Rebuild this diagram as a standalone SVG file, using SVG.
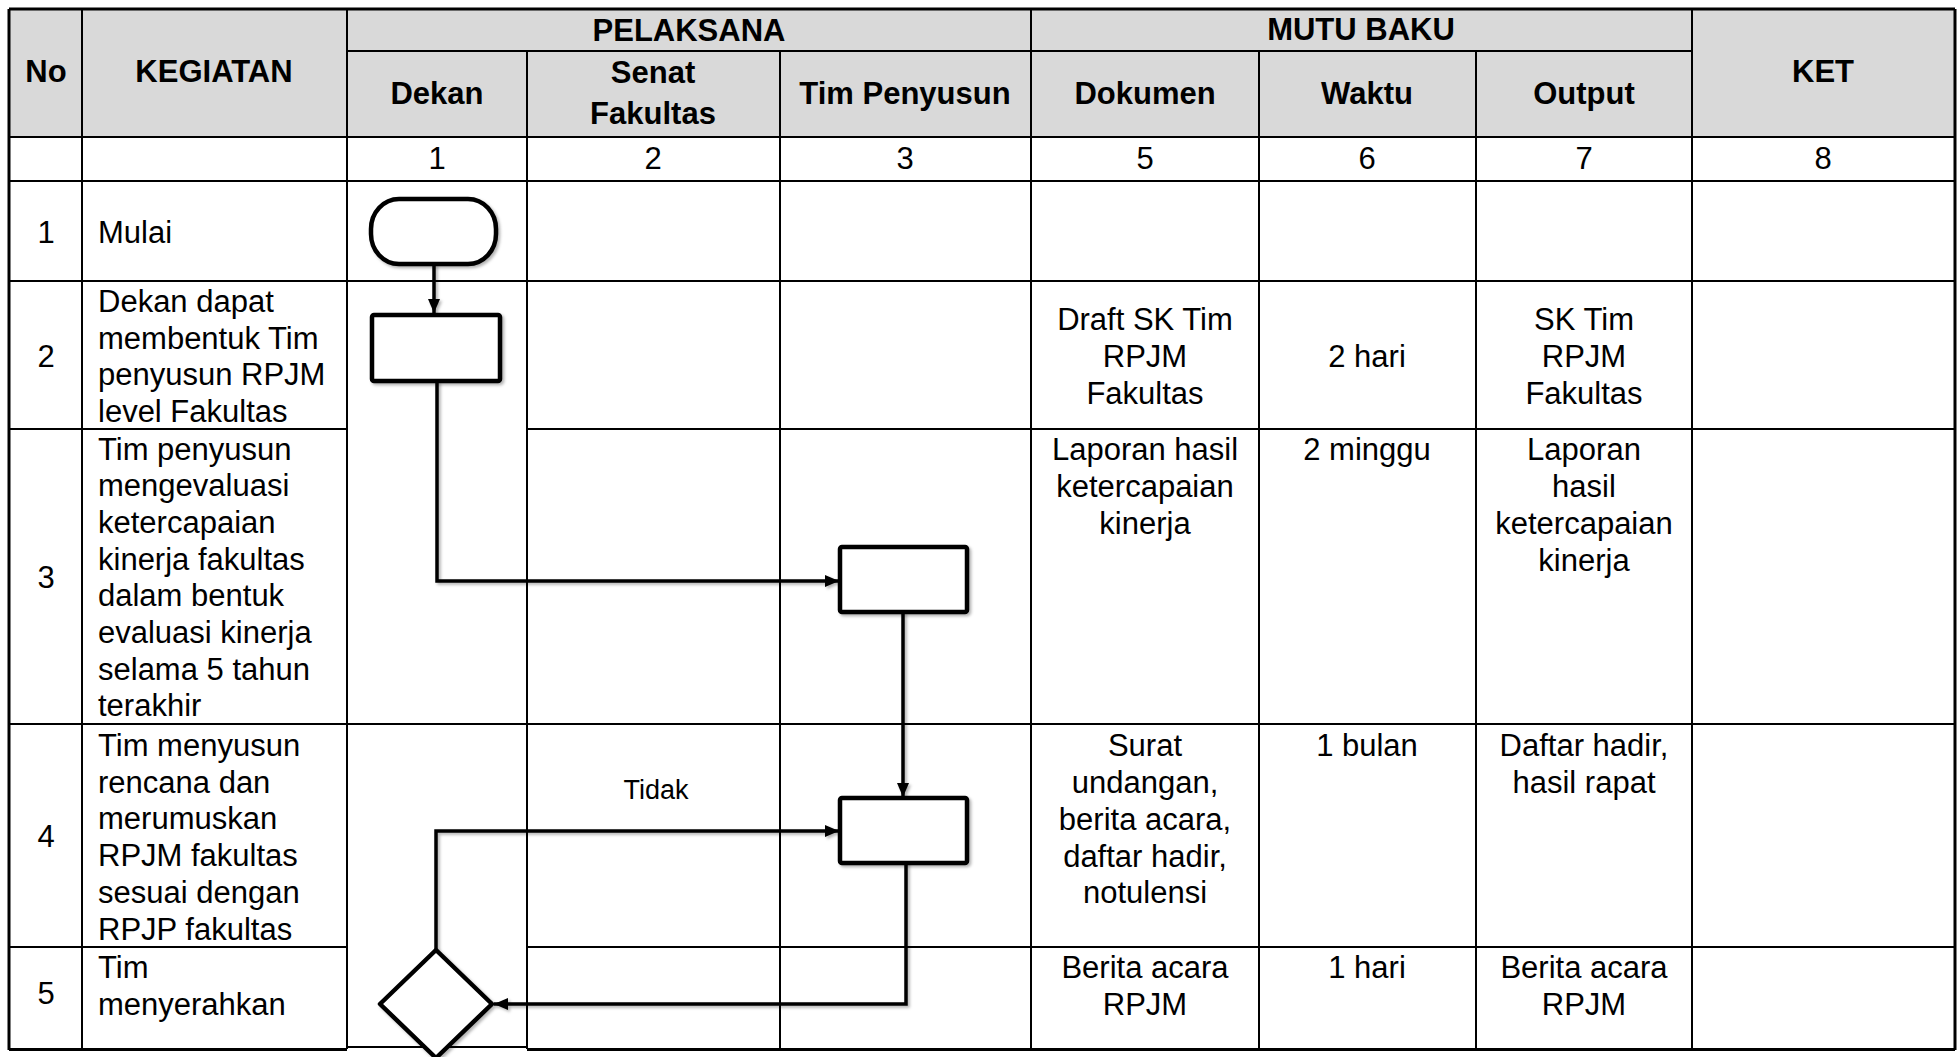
<svg xmlns="http://www.w3.org/2000/svg" width="1959" height="1057" viewBox="0 0 1959 1057">
<style>
text{font-family:"Liberation Sans",Arial,sans-serif;font-size:31px;fill:#000}
.b{font-weight:bold}
.c{text-anchor:middle}
.g{stroke:#000;stroke-width:2;fill:none}
.gb{stroke:#000;stroke-width:3;fill:none}
.shape{fill:#fff;stroke:#000;stroke-width:4.5;stroke-linejoin:round}
.conn{fill:none;stroke:#000;stroke-width:3.5;stroke-linejoin:miter}
.lbl{font-size:27px}
</style>
<defs>
<marker id="ah" markerUnits="userSpaceOnUse" markerWidth="14" markerHeight="12" refX="14" refY="6" orient="auto">
<path d="M0,0 L14,6 L0,12 z" fill="#000"/>
</marker>
<filter id="sh" filterUnits="userSpaceOnUse" x="0" y="0" width="1959" height="1057">
<feDropShadow dx="2" dy="2" stdDeviation="1.5" flood-color="#000" flood-opacity="0.3"/>
</filter>
</defs>
<rect width="1959" height="1057" fill="#fff"/>
<g id="table">
<rect x="9" y="9" width="1946" height="128" fill="#d9d9d9"/>
<g class="g">
<line x1="347" y1="51" x2="1692" y2="51"/>
<line x1="9" y1="137" x2="1955" y2="137"/>
<line x1="9" y1="181" x2="1955" y2="181"/>
<line x1="9" y1="281" x2="1955" y2="281"/>
<line x1="9" y1="429" x2="347" y2="429"/>
<line x1="527" y1="429" x2="1955" y2="429"/>
<line x1="9" y1="724" x2="1955" y2="724"/>
<line x1="9" y1="947" x2="347" y2="947"/>
<line x1="527" y1="947" x2="1955" y2="947"/>
<line x1="347" y1="1047" x2="527" y2="1047"/>
<line x1="82" y1="9" x2="82" y2="1049"/>
<line x1="347" y1="9" x2="347" y2="1049"/>
<line x1="527" y1="51" x2="527" y2="1049"/>
<line x1="780" y1="51" x2="780" y2="1049"/>
<line x1="1031" y1="9" x2="1031" y2="1049"/>
<line x1="1259" y1="51" x2="1259" y2="1049"/>
<line x1="1476" y1="51" x2="1476" y2="1049"/>
<line x1="1692" y1="9" x2="1692" y2="1049"/>
</g>
<g class="gb">
<line x1="9" y1="9" x2="1955" y2="9"/>
<line x1="9" y1="1049.5" x2="347" y2="1049.5"/>
<line x1="527" y1="1049.5" x2="1955" y2="1049.5"/>
<line x1="9" y1="9" x2="9" y2="1050"/>
<line x1="1955" y1="9" x2="1955" y2="1050"/>
</g>
<g class="b c">
<text x="46" y="82">No</text>
<text x="214" y="82">KEGIATAN</text>
<text x="689" y="41">PELAKSANA</text>
<text x="1361" y="40">MUTU BAKU</text>
<text x="1823" y="82">KET</text>
<text x="437" y="104">Dekan</text>
<text x="653" y="83">Senat</text>
<text x="653" y="124">Fakultas</text>
<text x="905" y="104">Tim Penyusun</text>
<text x="1145" y="104">Dokumen</text>
<text x="1367" y="104">Waktu</text>
<text x="1584" y="104">Output</text>
</g>
<g class="c">
<text x="437" y="169">1</text>
<text x="653" y="169">2</text>
<text x="905" y="169">3</text>
<text x="1145" y="169">5</text>
<text x="1367" y="169">6</text>
<text x="1584" y="169">7</text>
<text x="1823" y="169">8</text>
<text x="46" y="243">1</text>
<text x="46" y="367">2</text>
<text x="46" y="588">3</text>
<text x="46" y="847">4</text>
<text x="46" y="1004">5</text>
</g>
<g>
<text x="98" y="243">Mulai</text>
<text x="98" y="312">Dekan dapat</text>
<text x="98" y="349">membentuk Tim</text>
<text x="98" y="385">penyusun RPJM</text>
<text x="98" y="422">level Fakultas</text>
<text x="98" y="459.5">Tim penyusun</text>
<text x="98" y="496.2">mengevaluasi</text>
<text x="98" y="532.9">ketercapaian</text>
<text x="98" y="569.6">kinerja fakultas</text>
<text x="98" y="606.3">dalam bentuk</text>
<text x="98" y="643">evaluasi kinerja</text>
<text x="98" y="679.7">selama 5 tahun</text>
<text x="98" y="716.4">terakhir</text>
<text x="98" y="756">Tim menyusun</text>
<text x="98" y="792.7">rencana dan</text>
<text x="98" y="829.4">merumuskan</text>
<text x="98" y="866.1">RPJM fakultas</text>
<text x="98" y="902.8">sesuai dengan</text>
<text x="98" y="939.5">RPJP fakultas</text>
<text x="98" y="978">Tim</text>
<text x="98" y="1015">menyerahkan</text>
</g>
<g class="c">
<text x="1145" y="330">Draft SK Tim</text>
<text x="1145" y="367">RPJM</text>
<text x="1145" y="404">Fakultas</text>
<text x="1367" y="367">2 hari</text>
<text x="1584" y="330">SK Tim</text>
<text x="1584" y="367">RPJM</text>
<text x="1584" y="404">Fakultas</text>
<text x="1145" y="460">Laporan hasil</text>
<text x="1145" y="497">ketercapaian</text>
<text x="1145" y="534">kinerja</text>
<text x="1367" y="460">2 minggu</text>
<text x="1584" y="460">Laporan</text>
<text x="1584" y="497">hasil</text>
<text x="1584" y="534">ketercapaian</text>
<text x="1584" y="571">kinerja</text>
<text x="1145" y="756">Surat</text>
<text x="1145" y="793">undangan,</text>
<text x="1145" y="830">berita acara,</text>
<text x="1145" y="867">daftar hadir,</text>
<text x="1145" y="903">notulensi</text>
<text x="1367" y="756">1 bulan</text>
<text x="1584" y="756">Daftar hadir,</text>
<text x="1584" y="793">hasil rapat</text>
<text x="1145" y="978">Berita acara</text>
<text x="1145" y="1015">RPJM</text>
<text x="1367" y="978">1 hari</text>
<text x="1584" y="978">Berita acara</text>
<text x="1584" y="1015">RPJM</text>
</g>
</g>
<g id="connectors">
<path class="conn" filter="url(#sh)" d="M434,264 V313" marker-end="url(#ah)"/>
<path class="conn" filter="url(#sh)" d="M437,381 V581 H839" marker-end="url(#ah)"/>
<path class="conn" filter="url(#sh)" d="M903,612 V797" marker-end="url(#ah)"/>
<path class="conn" filter="url(#sh)" d="M906,862 V1004 H494" marker-end="url(#ah)"/>
<path class="conn" filter="url(#sh)" d="M436,950 V831 H839" marker-end="url(#ah)"/>
<text class="c lbl" x="656" y="799">Tidak</text>
</g>
<g id="n-mulai" filter="url(#sh)">
<rect class="shape" x="371" y="199" width="125" height="65" rx="28" ry="30"/>
</g>
<g id="n-bentuk-tim" filter="url(#sh)">
<rect class="shape" x="372" y="315" width="128" height="66" rx="2"/>
</g>
<g id="n-evaluasi" filter="url(#sh)">
<rect class="shape" x="840" y="547" width="127" height="65" rx="2"/>
</g>
<g id="n-menyusun" filter="url(#sh)">
<rect class="shape" x="840" y="798" width="127" height="65" rx="2"/>
</g>
<g id="n-keputusan" filter="url(#sh)">
<path class="shape" d="M436,950 L492,1004 L436,1058 L380,1004 Z"/>
</g>
</svg>
